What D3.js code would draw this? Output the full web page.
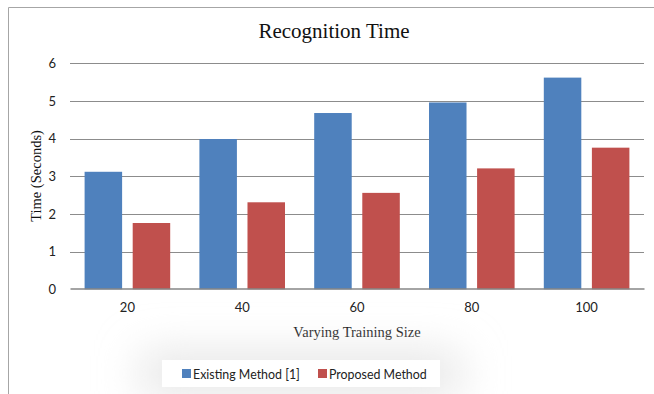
<!DOCTYPE html>
<html>
<head>
<meta charset="utf-8">
<script src="https://cdn.jsdelivr.net/npm/d3@7"></script>
<style>
  html, body { margin: 0; padding: 0; background: #fff; }
  svg { display: block; }
</style>
</head>
<body>
<svg id="chart" width="654" height="394"></svg>
<script>
// Recognition time per training size
const categories = ["20", "40", "60", "80", "100"];
const seriesNames = ["Existing Method [1]", "Proposed Method"];
const existingMethod = [3.12, 3.99, 4.68, 4.96, 5.62];
const proposedMethod = [1.76, 2.31, 2.56, 3.21, 3.76];
const yTicks = [0, 1, 2, 3, 4, 5, 6];
const seriesColors = ["#4F81BD", "#C0504D"];

const svg = d3.select("#chart");
const W = 654, H = 394;
const plot = { left: 70, right: 644, top: 63.3, bottom: 289.3 };

// chart frame
svg.append("path")
  .attr("d", `M8.5,${H} L8.5,7.5 L${W},7.5`)
  .attr("fill", "none").attr("stroke", "#a6a6a6").attr("stroke-width", 1);

// soft haze behind the legend
const defs = svg.append("defs");
const blur = defs.append("filter").attr("id", "haze")
  .attr("x", "-60%").attr("y", "-250%").attr("width", "220%").attr("height", "600%");
blur.append("feGaussianBlur").attr("stdDeviation", 22);

const x0 = d3.scaleBand().domain(categories).range([plot.left, plot.right]).paddingInner(0).paddingOuter(0);
const x1 = d3.scaleBand().domain(seriesNames).range([14.6, x0.bandwidth() - 14.6]).paddingInner(0.22);
const y = d3.scaleLinear().domain([0, 6]).range([plot.bottom, plot.top]);

// gridlines
svg.append("g").selectAll("line").data(yTicks.filter(t => t > 0)).join("line")
  .attr("x1", plot.left).attr("x2", plot.right)
  .attr("y1", d => Math.round(y(d)) + 0.5).attr("y2", d => Math.round(y(d)) + 0.5)
  .attr("stroke", "#8c8c8c").attr("stroke-width", 1);

// bars
const rows = categories.map((c, i) => ({ c, vals: [existingMethod[i], proposedMethod[i]] }));
const groups = svg.append("g").selectAll("g").data(rows).join("g")
  .attr("transform", d => `translate(${x0(d.c)},0)`);
groups.selectAll("rect").data(d => d.vals.map((v, j) => ({ v, name: seriesNames[j], j }))).join("rect")
  .attr("x", d => x1(d.name))
  .attr("width", x1.bandwidth())
  .attr("y", d => y(d.v))
  .attr("height", d => y(0) - y(d.v))
  .attr("fill", d => seriesColors[d.j]);

// x axis
const xAxis = svg.append("g").attr("transform", `translate(0,${Math.round(plot.bottom) - 0.5})`)
  .call(d3.axisBottom(x0).tickSize(0).tickPadding(14));
xAxis.select(".domain").attr("stroke", "#868686").attr("stroke-width", 1.3);
xAxis.selectAll("text").attr("font-family", "Lato, 'Open Sans', sans-serif").attr("font-size", 13).attr("fill", "#222");

// y axis labels
const yAxis = svg.append("g").attr("transform", `translate(${plot.left - 14},0)`)
  .call(d3.axisLeft(y).tickValues(yTicks).tickSize(0).tickPadding(0).tickFormat(d3.format("d")));
yAxis.select(".domain").remove();
yAxis.selectAll("text").attr("font-family", "Lato, 'Open Sans', sans-serif").attr("font-size", 13).attr("fill", "#222");

// titles
svg.append("text").attr("x", 334).attr("y", 38).attr("text-anchor", "middle")
  .attr("font-family", "'Liberation Serif', 'Times New Roman', serif").attr("font-size", 21).attr("fill", "#111")
  .text("Recognition Time");
svg.append("text").attr("x", 357).attr("y", 337).attr("text-anchor", "middle")
  .attr("font-family", "'Liberation Serif', 'Times New Roman', serif").attr("font-size", 14.5).attr("fill", "#111")
  .text("Varying Training Size");
svg.append("text").attr("transform", "translate(41,176) rotate(-90)").attr("text-anchor", "middle")
  .attr("font-family", "'Liberation Serif', 'Times New Roman', serif").attr("font-size", 14.5).attr("fill", "#111")
  .text("Time (Seconds)");

// legend
const lg = { x: 162, y: 360, w: 278, h: 27 };
svg.append("rect").attr("x", lg.x - 20).attr("y", lg.y - 6).attr("width", lg.w + 40).attr("height", lg.h + 12)
  .attr("fill", "#e2e2e2").attr("filter", "url(#haze)");
svg.append("rect").attr("x", lg.x).attr("y", lg.y).attr("width", lg.w).attr("height", lg.h).attr("fill", "#fff");
const legendX = [182, 318];
const items = svg.append("g").selectAll("g").data(seriesNames).join("g")
  .attr("transform", (d, i) => `translate(${legendX[i]},${lg.y + 9})`);
items.append("rect").attr("width", 9).attr("height", 9).attr("fill", (d, i) => seriesColors[i]);
items.append("text").attr("x", 11).attr("y", 9.5)
  .attr("font-family", "Lato, 'Open Sans', sans-serif").attr("font-size", 12.4).attr("fill", "#222")
  .text(d => d);
</script>
</body>
</html>
